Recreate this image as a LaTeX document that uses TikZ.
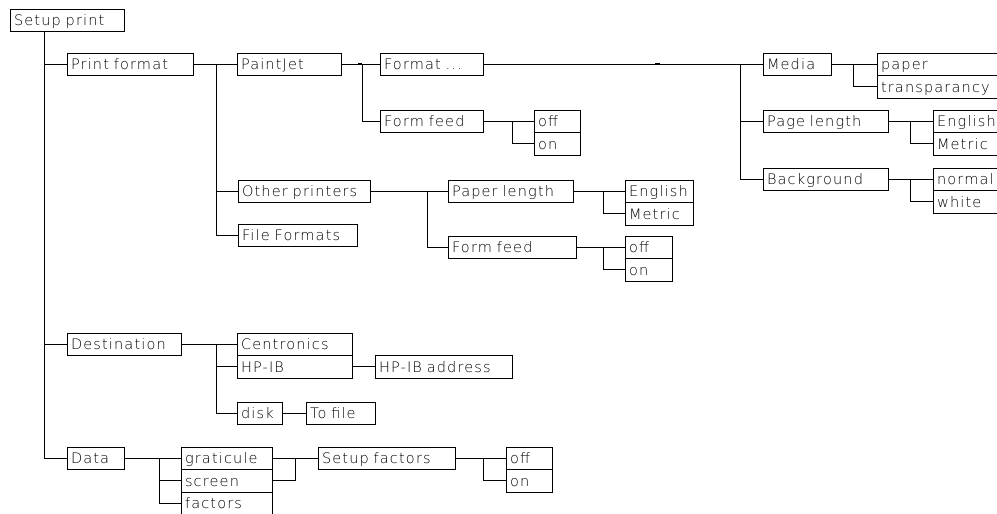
\documentclass[tikz,border=0pt]{standalone}
\usepackage{fontspec}
\newfontfamily\spfont{DejaVu Sans ExtraLight}[LetterSpace=8,WordSpace=1.8]
\usetikzlibrary{positioning}
\tikzset{
  spbox/.style={draw,line width=0.9pt,anchor=north west,outer sep=0pt,inner xsep=4pt,inner ysep=0pt,minimum height=22.5pt,text width=#1,align=left,text height=10.5pt,text depth=0pt,font=\spfont\fontsize{14.5}{16}\selectfont},
  spline/.style={line width=0.9pt},
  spmark/.style={line width=2.2pt},
}
\begin{document}
\begin{tikzpicture}[x=1pt,y=-1pt,node distance=0pt]
\useasboundingbox (0,0) rectangle (997,514);
 % setup print menu tree
\node[spbox=106] (setup) at (10,9) {Setup print};
\node[spbox=118] (prfmt) at (67,53) {Print format};
\node[spbox=106] (dest) at (67,333) {Destination};
\node[spbox=49] (data) at (67,447) {Data};
% print format branch
\node[spbox=96] (paintjet) at (237,53) {PaintJet};
\node[spbox=124] (other) at (238,180) {Other printers};
\node[spbox=111] (filefmt) at (238,224) {File Formats};
\node[spbox=95] (format) at (380,53) {Format ...};
\node[spbox=95] (ffeed1) at (380,110) {Form feed};
\node[spbox=38] (off1) at (534,110) {off};
\node[spbox=38,below=of off1] (on1) {on};
\node[spbox=60] (media) at (763,53) {Media};
\node[spbox=112] (paper) at (877,53) {paper};
\node[spbox=112,below=of paper] (transp) {transparancy};
\node[spbox=117] (pagelen) at (763,110) {Page length};
\node[spbox=72] (eng2) at (933,110) {English};
\node[spbox=72,below=of eng2] (met2) {Metric};
\node[spbox=117] (backgr) at (763,168) {Background};
\node[spbox=72] (normal) at (933,168) {normal};
\node[spbox=72,below=of normal] (white) {white};
\node[spbox=117] (paplen) at (448,180) {Paper length};
\node[spbox=60] (eng1) at (625,180) {English};
\node[spbox=60,below=of eng1] (met1) {Metric};
\node[spbox=120] (ffeed2) at (448,236) {Form feed};
\node[spbox=39] (off2) at (625,236) {off};
\node[spbox=39,below=of off2] (on2) {on};
% destination branch
\node[spbox=107] (centr) at (237,333) {Centronics};
\node[spbox=107,below=of centr] (hpib) {HP-IB};
\node[spbox=129,right=23pt of hpib] (hpibaddr) {HP-IB address};
\node[spbox=37] (disk) at (237,402) {disk};
\node[spbox=61,right=24pt of disk] (tofile) {To file};
% data branch
\node[spbox=83] (grat) at (181,447) {graticule};
\node[spbox=83,below=of grat] (screen) {screen};
\node[spbox=83,below=of screen] (factors) {factors};
\node[spbox=129] (setupf) at (318,447) {Setup factors};
\node[spbox=38] (off3) at (506,447) {off};
\node[spbox=38,below=of off3] (on3) {on};
% junctions
\coordinate (t0) at ([xshift=34pt]setup.south west);
\coordinate (j1) at ([xshift=23pt]prfmt.east);
\coordinate (j2) at ([xshift=21pt]paintjet.east);
\coordinate (j3) at ([xshift=257pt]format.east);
\coordinate (j4) at ([xshift=22pt]media.east);
\coordinate (j5) at ([xshift=22pt]pagelen.east);
\coordinate (j6) at ([xshift=22pt]backgr.east);
\coordinate (j7) at ([xshift=29pt]ffeed1.east);
\coordinate (j8) at ([xshift=57pt]other.east);
\coordinate (j9) at ([xshift=30pt]paplen.east);
\coordinate (j10) at ([xshift=27pt]ffeed2.east);
\coordinate (j11) at ([xshift=35pt]dest.east);
\coordinate (j12) at ([xshift=35pt]data.east);
\coordinate (j13) at ([xshift=23pt]grat.east);
\coordinate (j14) at ([xshift=28pt]setupf.east);
\draw[spline] (t0) |- (data.west); \draw[spline] (t0) |- (prfmt.west); \draw[spline] (t0) |- (dest.west);
\draw[spline] (prfmt.east) -- (paintjet.west); \draw[spline] (j1) |- (other.west); \draw[spline] (j1) |- (filefmt.west);
\draw[spline] (paintjet.east) -- (format.west); \draw[spline] (j2) |- (ffeed1.west);
\draw[spmark] ([xshift=17pt]paintjet.east) -- (j2);
\draw[spline] (format.east) -- (media.west); \draw[spline] (j3) |- (pagelen.west); \draw[spline] (j3) |- (backgr.west);
\draw[spmark] ([xshift=172pt]format.east) -- ++(5,0);
\draw[spline] (media.east) -- (paper.west); \draw[spline] (j4) |- (transp.west);
\draw[spline] (pagelen.east) -- (eng2.west); \draw[spline] (j5) |- (met2.west);
\draw[spline] (backgr.east) -- (normal.west); \draw[spline] (j6) |- (white.west);
\draw[spline] (ffeed1.east) -- (off1.west); \draw[spline] (j7) |- (on1.west);
\draw[spline] (other.east) -- (paplen.west); \draw[spline] (j8) |- (ffeed2.west);
\draw[spline] (paplen.east) -- (eng1.west); \draw[spline] (j9) |- (met1.west);
\draw[spline] (ffeed2.east) -- (off2.west); \draw[spline] (j10) |- (on2.west);
\draw[spline] (dest.east) -- (centr.west); \draw[spline] (j11) |- (hpib.west); \draw[spline] (j11) |- (disk.west);
\draw[spline] (hpib.east) -- (hpibaddr.west);
\draw[spline] (disk.east) -- (tofile.west);
\draw[spline] (data.east) -- (grat.west); \draw[spline] (j12) |- (screen.west); \draw[spline] (j12) |- (factors.west);
\draw[spline] (grat.east) -- (setupf.west); \draw[spline] (screen.east) -| (j13);
\draw[spline] (setupf.east) -- (off3.west); \draw[spline] (j14) |- (on3.west);
\end{tikzpicture}
\end{document}
